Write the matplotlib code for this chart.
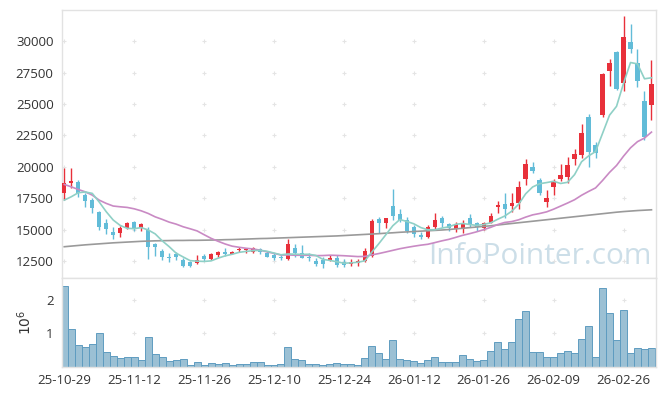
import matplotlib
matplotlib.use("Agg")
import matplotlib.pyplot as plt
import numpy as np
import pandas as pd

plt.rcParams['font.family'] = ['Open Sans', 'DejaVu Sans']

# daily candles, 2025-10-29 .. 2026-03-05 (85 trading days)
opens = [17890, 18730, 18800, 17750, 17350, 16420, 15500, 14830, 14750, 15150,
         15600, 15150, 14970, 13850, 13300, 12840, 13060, 12580, 12450, 12320,
         12900, 12640, 12980, 13220, 13080, 13350, 13350, 13240, 13430, 13160,
         12980, 12840, 12680, 13560, 13110, 12840, 12520, 12580, 12520, 12740,
         12450, 12240, 12340, 12520, 12900, 15840, 15550, 16900, 16240, 15760,
         15180, 14570, 14430, 15230, 15940, 15420, 15020, 15020, 15940, 15500,
         15100, 15550, 16820, 17010, 16880, 17140, 19000, 19950, 18940, 17220,
         18410, 19000, 19210, 20610, 20930, 23980, 21730, 24110, 27640, 29150,
         26680, 29950, 28270, 25250, 24910]
highs = [19870, 19870, 18950, 17890, 17500, 16450, 15820, 15230, 15280, 15630,
         15680, 15550, 15180, 13960, 13430, 13160, 13240, 12760, 12500, 12980,
         13030, 13160, 13290, 13510, 13260, 13610, 13560, 13590, 13510, 13300,
         13140, 13060, 14230, 13830, 13770, 13110, 12710, 12790, 12980, 12980,
         12630, 12630, 12630, 13510, 15820, 16020, 15950, 18200, 16610, 16020,
         15360, 14830, 15360, 16340, 16080, 15550, 15630, 15760, 16210, 15630,
         15630, 16340, 17270, 17890, 17890, 18890, 20590, 20350, 19080, 18150,
         19000, 20220, 20800, 21390, 23400, 24190, 21990, 27500, 28620, 29200,
         31990, 31410, 29420, 26020, 28490]
lows = [17350, 18280, 17620, 16820, 16300, 14970, 14650, 14230, 14430, 15050,
        14900, 14890, 12640, 12900, 12580, 12450, 12580, 12000, 12050, 12240,
        12520, 12550, 12850, 12870, 13040, 13240, 13180, 13160, 13030, 12800,
        12550, 12550, 12580, 12840, 12710, 12530, 12130, 11970, 12480, 12050,
        12000, 12080, 12130, 12400, 12840, 14750, 15100, 15760, 15630, 14750,
        14390, 14230, 14310, 15020, 15230, 14910, 14830, 14750, 15230, 14910,
        14990, 15500, 16290, 15900, 16420, 16610, 18550, 19480, 17750, 16770,
        17750, 18890, 18680, 20140, 20670, 20000, 20670, 24000, 26420, 26100,
        26020, 29070, 26320, 22130, 23770]
closes = [18680, 18860, 17900, 17300, 16700, 15230, 15020, 14570, 15150, 15550,
          15100, 15440, 13640, 13590, 12800, 12770, 12840, 12130, 12130, 12580,
          12660, 13060, 13220, 13030, 13220, 13430, 13430, 13510, 13190, 12840,
          12710, 12740, 13830, 13110, 12760, 12760, 12260, 12260, 12710, 12220,
          12180, 12400, 12500, 13300, 15680, 15550, 15940, 16100, 15760, 14910,
          14620, 14440, 15230, 15760, 15550, 15150, 15440, 15550, 15360, 15180,
          15550, 16080, 16960, 16640, 17090, 18360, 20220, 19680, 17940, 17540,
          18890, 19340, 20140, 21010, 22660, 21200, 21070, 27380, 28270, 26180,
          30340, 29370, 26840, 22340, 26580]
volumes_m = [2.42, 1.13, 0.65, 0.59, 0.69, 1.01, 0.46, 0.34, 0.28, 0.30,
             0.30, 0.22, 0.89, 0.39, 0.30, 0.19, 0.22, 0.24, 0.06, 0.15,
             0.06, 0.12, 0.09, 0.12, 0.06, 0.09, 0.09, 0.15, 0.15, 0.06,
             0.06, 0.09, 0.59, 0.24, 0.21, 0.09, 0.09, 0.06, 0.08, 0.11,
             0.08, 0.08, 0.05, 0.28, 0.64, 0.43, 0.23, 0.81, 0.25, 0.21,
             0.18, 0.11, 0.21, 0.31, 0.14, 0.14, 0.14, 0.37, 0.25, 0.18,
             0.21, 0.49, 0.73, 0.55, 0.73, 1.43, 1.67, 0.46, 0.46, 0.31,
             0.31, 0.43, 0.49, 0.43, 0.84, 1.23, 0.31, 2.34, 1.61, 0.81,
             1.70, 0.43, 0.58, 0.55, 0.58]

# moving-average values before enough closes are visible
ma5_head = [17350, 17620, 17940, 18000]
ma20_head = [18600, 18410, 18200, 18010, 17750, 17350, 17090, 16880, 16820, 16770,
             16660, 16500, 16290, 16020, 15820, 15600, 15440, 15230, 15070]
ma120 = [13640, 13690, 13740, 13790, 13830, 13870, 13910, 13950, 13980, 14010,
         14040, 14070, 14090, 14110, 14120, 14130, 14140, 14140, 14150, 14150,
         14160, 14170, 14180, 14200, 14210, 14230, 14250, 14270, 14290, 14300,
         14320, 14340, 14360, 14380, 14400, 14420, 14440, 14460, 14480, 14500,
         14530, 14560, 14590, 14620, 14650, 14680, 14720, 14750, 14790, 14820,
         14850, 14880, 14910, 14940, 14970, 15010, 15060, 15110, 15160, 15210,
         15260, 15310, 15370, 15430, 15490, 15550, 15610, 15670, 15730, 15790,
         15850, 15910, 15970, 16030, 16090, 16150, 16210, 16270, 16330, 16390,
         16440, 16480, 16520, 16550, 16580]

tick_labels = ['25-10-29', '25-11-12', '25-11-26', '25-12-10', '25-12-24',
               '26-01-12', '26-01-26', '26-02-09', '26-02-26']
price_ticks = [12500, 15000, 17500, 20000, 22500, 25000, 27500, 30000]
vol_ticks = [1, 2]

UP = '#e8303a'
DOWN = '#62bcd8'
GRID = '#e4e4e4'
SPINE = '#e2e2e2'


def main():
    o = np.array(opens, dtype=float)
    h = np.array(highs, dtype=float)
    l = np.array(lows, dtype=float)
    c = np.array(closes, dtype=float)
    x = np.arange(len(c))

    cs = pd.Series(c)
    ma5 = cs.rolling(5).mean().to_numpy()
    ma5[:len(ma5_head)] = ma5_head
    ma20 = cs.rolling(20).mean().to_numpy()
    ma20[:len(ma20_head)] = ma20_head

    fig = plt.figure(figsize=(6.65, 3.96), dpi=100)
    ax = fig.add_axes([0.0932, 0.298, 0.8933, 0.6767])
    axv = fig.add_axes([0.0932, 0.0732, 0.8933, 0.2248], sharex=ax)

    xticks = np.arange(0, len(c), 10)[:len(tick_labels)]

    # grid drawn as little plus marks at the tick crossings
    gx, gy = np.meshgrid(xticks, price_ticks)
    ax.plot(gx.ravel(), gy.ravel(), '+', color=GRID, ms=3.2, mew=0.8, zorder=0)
    gx, gy = np.meshgrid(xticks, vol_ticks)
    axv.plot(gx.ravel(), gy.ravel(), '+', color=GRID, ms=3.2, mew=0.8, zorder=0)

    colors = np.where(c >= o, UP, DOWN)
    ax.vlines(x, l, h, colors=colors, linewidth=1, zorder=2)
    body = np.maximum(np.abs(c - o), 60)
    ax.bar(x, body, bottom=np.minimum(o, c), width=0.62, color=colors,
           linewidth=0, zorder=3)

    ax.plot(x, ma120, color='#9a9a9a', lw=1.2, zorder=4)
    ax.plot(x, ma20, color='#c98ac4', lw=1.2, zorder=4)
    ax.plot(x, ma5, color='#8fd0c6', lw=1.2, zorder=4)

    ax.text(len(c) - 1.0, 12250, 'InfoPointer.com', ha='right', va='baseline',
            fontsize=21.5, color='#c4d9e4', alpha=0.85, zorder=1,
            family=['Open Sans', 'DejaVu Sans'])

    axv.bar(x, volumes_m, width=1.0, color='#9bc0d4', edgecolor='#5f9cc0',
            linewidth=0.7, zorder=2)

    ax.set_xlim(-0.33, len(c) - 0.35)
    ax.set_ylim(11150, 32490)
    axv.set_ylim(0, 2.65)

    ax.set_yticks(price_ticks)
    ax.set_yticklabels([str(p) for p in price_ticks])
    axv.set_yticks(vol_ticks)
    axv.set_yticklabels([str(v) for v in vol_ticks])
    axv.set_ylabel(r'$10^6$', fontsize=10, color='#333333', labelpad=8)
    axv.set_xticks(xticks)
    axv.set_xticklabels(tick_labels)
    ax.tick_params(axis='x', labelbottom=False, length=0)

    for a in (ax, axv):
        a.tick_params(length=0, labelsize=9.5, colors='#333333', pad=6)
        for s in a.spines.values():
            s.set_color(SPINE)
            s.set_linewidth(1)
    axv.tick_params(axis='x', pad=5)

    fig.savefig('out.png', dpi=100)


if __name__ == "__main__":
    main()
